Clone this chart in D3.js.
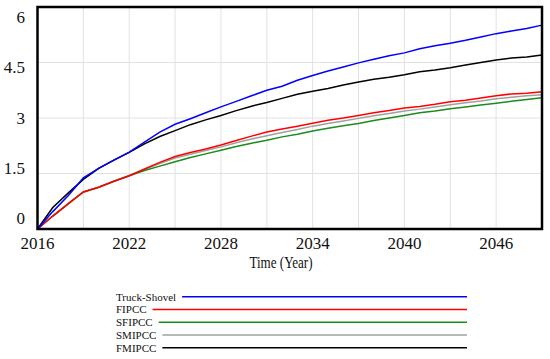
<!DOCTYPE html>
<html lang="en">

<head>
    <meta charset="UTF-8">
    <title>Time (Year)</title>
    <script src="https://d3js.org/d3.v7.min.js"></script>
    <style>
        body {
            margin: 0;
            background: #fff;
        }

        svg text {
            font-family: "Liberation Serif", serif;
            fill: #111;
        }

        .grid line {
            stroke: #e2e2e2;
            stroke-width: 1px;
        }

        .series {
            fill: none;
            stroke-width: 1.5px;
        }
    </style>
</head>

<body>
    <svg id="chart" width="550" height="359"></svg>

    <script>
        // 年份与各方案数据
        const years = d3.range(2016, 2050);
        const truckShovel = [0, 0.47, 0.90, 1.38, 1.64, 1.86, 2.08, 2.35, 2.62, 2.83, 2.98, 3.14, 3.30, 3.45, 3.60, 3.75, 3.86,
            4.02, 4.15, 4.27, 4.38, 4.49, 4.59, 4.68, 4.76, 4.87, 4.95, 5.02, 5.10, 5.19, 5.28, 5.35, 5.42, 5.51];
        const fipcc = [0, 0.35, 0.68, 1.00, 1.13, 1.29, 1.44, 1.62, 1.80, 1.96, 2.07, 2.16, 2.27, 2.39, 2.51, 2.62, 2.70,
            2.78, 2.86, 2.94, 3.00, 3.07, 3.14, 3.20, 3.27, 3.31, 3.37, 3.44, 3.48, 3.54, 3.60, 3.65, 3.67, 3.71];
        const sfipcc = [0, 0.35, 0.68, 1.00, 1.13, 1.29, 1.44, 1.58, 1.70, 1.82, 1.93, 2.03, 2.13, 2.23, 2.32, 2.40, 2.49,
            2.56, 2.65, 2.72, 2.79, 2.85, 2.93, 3.00, 3.07, 3.14, 3.19, 3.25, 3.30, 3.35, 3.40, 3.45, 3.50, 3.55];
        const smipcc = [0, 0.35, 0.68, 1.00, 1.13, 1.29, 1.44, 1.61, 1.77, 1.92, 2.02, 2.12, 2.22, 2.33, 2.43, 2.52, 2.61,
            2.69, 2.78, 2.85, 2.92, 2.99, 3.06, 3.12, 3.19, 3.24, 3.30, 3.36, 3.41, 3.46, 3.52, 3.56, 3.60, 3.63];
        const fmipcc = [0, 0.58, 0.97, 1.34, 1.64, 1.86, 2.07, 2.30, 2.50, 2.66, 2.82, 2.95, 3.07, 3.20, 3.32, 3.42, 3.53,
            3.64, 3.72, 3.80, 3.89, 3.97, 4.05, 4.10, 4.17, 4.25, 4.30, 4.36, 4.43, 4.50, 4.57, 4.62, 4.65, 4.70];

        const xTicks = [2016, 2022, 2028, 2034, 2040, 2046];
        const xGrid = [2019, 2022, 2025, 2028, 2031, 2034, 2037, 2040, 2043, 2046];
        const yTicks = [0, 1.5, 3, 4.5, 6];
        const yTickLabels = ["0", "1.5", "3", "4.5", "6"];

        const series = [
            { name: "Truck-Shovel", values: truckShovel, color: "#0000ff" },
            { name: "FIPCC", values: fipcc, color: "#ff0000" },
            { name: "SFIPCC", values: sfipcc, color: "#1a8c1a" },
            { name: "SMIPCC", values: smipcc, color: "#a0a0a0" },
            { name: "FMIPCC", values: fmipcc, color: "#000000" }
        ];

        const serif = "'Liberation Serif', 'Times New Roman', serif";
        const svg = d3.select("#chart");

        const x = d3.scaleLinear().domain([2016, 2049]).range([37.5, 542]);
        const y = d3.scaleLinear().domain([0, 6]).range([229, 7]);
        // 纵轴标签位置略偏（Vensim 风格）
        const yLab = d3.scaleLinear().domain([0, 6]).range([224, 23]);

        // 网格线
        const grid = svg.append("g").attr("class", "grid");
        grid.selectAll(".vx")
            .data(xGrid)
            .enter().append("line")
            .attr("x1", d => x(d)).attr("x2", d => x(d))
            .attr("y1", y(6)).attr("y2", y(0));
        grid.selectAll(".hy")
            .data(yTicks)
            .enter().append("line")
            .attr("x1", x(2016)).attr("x2", x(2049))
            .attr("y1", d => y(d)).attr("y2", d => y(d));

        // 折线
        const line = d3.line()
            .x((d, i) => x(years[i]))
            .y(d => y(d));

        const drawOrder = [4, 3, 2, 1, 0];
        svg.append("g")
            .selectAll("path")
            .data(drawOrder.map(i => series[i]))
            .enter().append("path")
            .attr("class", "series")
            .attr("stroke", d => d.color)
            .attr("d", d => line(d.values));

        // 边框
        svg.append("rect")
            .attr("x", x(2016)).attr("y", y(6))
            .attr("width", x(2049) - x(2016)).attr("height", y(0) - y(6))
            .attr("fill", "none")
            .attr("stroke", "#000")
            .attr("stroke-width", 2.5);

        // 坐标轴标签
        svg.append("g")
            .selectAll("text")
            .data(xTicks)
            .enter().append("text")
            .attr("x", d => x(d))
            .attr("y", 248.5)
            .attr("text-anchor", "middle")
            .style("font-family", serif)
            .style("font-size", "17px")
            .text(d => d);

        svg.append("g")
            .selectAll("text")
            .data(yTicks)
            .enter().append("text")
            .attr("x", 25)
            .attr("y", d => yLab(d))
            .attr("text-anchor", "end")
            .style("font-family", serif)
            .style("font-size", "17px")
            .text((d, i) => yTickLabels[i]);

        svg.append("text")
            .attr("x", 281)
            .attr("y", 268)
            .attr("text-anchor", "middle")
            .attr("textLength", 63)
            .attr("lengthAdjust", "spacingAndGlyphs")
            .style("font-family", serif)
            .style("font-size", "16px")
            .text("Time (Year)");

        // 图例
        const legend = svg.append("g");
        series.forEach((s, i) => {
            const ly = 296.7 + i * 12.75;
            const t = legend.append("text")
                .attr("x", 116)
                .attr("y", ly + 4)
                .style("font-family", serif)
                .style("font-size", "11px")
                .text(s.name);
            const w = t.node().getComputedTextLength();
            legend.append("line")
                .attr("x1", 116 + w + 6).attr("x2", 467)
                .attr("y1", ly).attr("y2", ly)
                .attr("stroke", s.color)
                .attr("stroke-width", 1.6);
        });
    </script>
</body>

</html>
